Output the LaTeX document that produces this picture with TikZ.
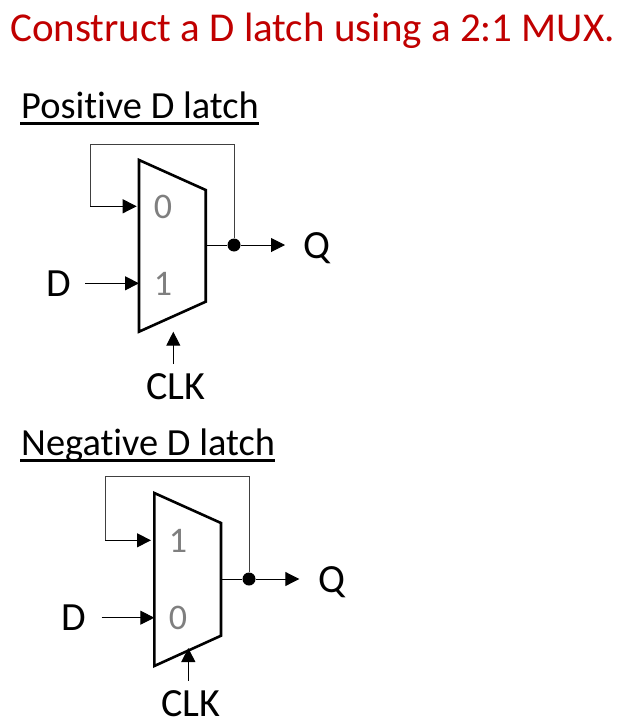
\documentclass[tikz,border=0pt]{standalone}
\usepackage{fontspec}
\setmainfont[Ligatures=NoCommon]{Carlito}
\usetikzlibrary{arrows.meta,calc}
\definecolor{titlered}{HTML}{C00000}
\definecolor{muxgray}{HTML}{7F7F7F}
\definecolor{loopgray}{HTML}{404040}
\tikzset{
  muxbody/.style={draw=black,line width=2.6pt,line join=miter},
  wire/.style={draw=black,line width=1pt,-{Triangle[length=14pt,width=14pt]}},
  loopwire/.style={draw=loopgray,line width=1pt},
  plainwire/.style={draw=black,line width=1pt},
  headrule/.style={draw=black,line width=2.6pt},
  junction/.style={circle,fill=black,inner sep=0pt,minimum size=13pt},
  lbl/.style={font=\fontsize{40}{40}\selectfont,anchor=base,inner sep=0pt,text=black},
  heading/.style={font=\fontsize{38.4}{38}\selectfont,anchor=base west,inner sep=0pt,text=black},
  digit/.style={font=\fontsize{36}{36}\selectfont,anchor=base,inner sep=0pt,text=muxgray},
  titletext/.style={font=\fontsize{41}{41}\selectfont,anchor=base west,inner sep=0pt,text=titlered}
}
\begin{document}
\begin{tikzpicture}[x=1pt,y=-1pt]
\useasboundingbox (0,0) rectangle (621,725);
\node[titletext] (title) at (10,41.5) {Construct a D latch using a 2:1 MUX.};
\node[heading] (h1) at (21,118) {Positive D latch};
\node[heading] (h2) at (21,455) {Negative D latch};
\draw[headrule] ($(h1.base west)+(-1,5.3)$) -- ($(h1.base east)+(0,5.3)$);
\draw[headrule] ($(h2.base west)+(-1,5.3)$) -- ($(h2.base east)+(0,5.3)$);
% positive latch
\draw[muxbody] (139,160) coordinate (ma) -- (205.7,190) -- (205.7,301.7) -- (139,331.7) -- cycle;
\coordinate (mao) at (205.7,245);
\coordinate (mai0) at (136.7,206.3);
\coordinate (mai1) at (139,283.3);
\coordinate (mas) at (173.3,331.7);
\node[junction] (ja) at (234,245) {};
\node[digit] (a0) at (163,218) {0};
\node[digit] (a1) at (163,295) {1};
\node[lbl] (da) at (59,296) {D};
\node[lbl] (qa) at (317,258) {Q};
\node[lbl] (ca) at (175.5,399) {CLK};
\coordinate (dsa) at (85,283.3);
\coordinate (qsa) at (285,245);
\coordinate (csa) at (173.3,364);
\draw[wire] (dsa) -- (mai1);
\draw[wire] (csa) -- (mas);
\draw[plainwire] (mao) -- (ja);
\draw[wire] (ja) -- (qsa);
\draw[loopwire] (ja) -- (234,144.7) -- (90,144.7) -- (90,206.3) -- (120,206.3);
\draw[wire] (90,206.3) -- (mai0);
% negative latch
\draw[muxbody] (154.3,493) coordinate (mb) -- (221,523) -- (221,635.7) -- (154.3,666) -- cycle;
\coordinate (mbo) at (221,579);
\coordinate (mbi1) at (151,540.3);
\coordinate (mbi0) at (154.3,617.7);
\coordinate (mbs) at (188.3,648);
\node[junction] (jb) at (249,579) {};
\node[digit] (b1) at (178,552) {1};
\node[digit] (b0) at (178,629) {0};
\node[lbl] (db) at (74,630) {D};
\node[lbl] (qb) at (332,592) {Q};
\node[lbl] (cb) at (190.5,716) {CLK};
\coordinate (dsb) at (101.7,617.7);
\coordinate (qsb) at (299.3,579);
\coordinate (csb) at (188.3,680.7);
\draw[wire] (dsb) -- (mbi0);
\draw[wire] (csb) -- (mbs);
\draw[plainwire] (mbo) -- (jb);
\draw[wire] (jb) -- (qsb);
\draw[loopwire] (jb) -- (249,476.7) -- (105,476.7) -- (105,540.3) -- (135,540.3);
\draw[wire] (105,540.3) -- (mbi1);
\end{tikzpicture}
\end{document}
